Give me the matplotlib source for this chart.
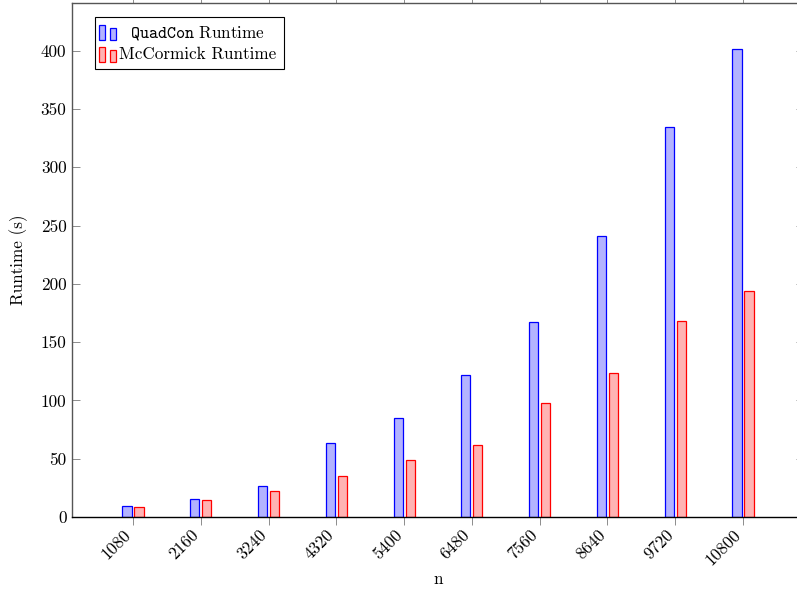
import matplotlib
matplotlib.use("Agg")
import matplotlib.pyplot as plt
import matplotlib.transforms as mtransforms
from matplotlib.patches import Rectangle
from matplotlib.legend_handler import HandlerBase
import numpy as np

plt.rcParams["font.family"] = "serif"
plt.rcParams["font.serif"] = ["cmr10", "DejaVu Serif"]
plt.rcParams["mathtext.fontset"] = "cm"
plt.rcParams["axes.unicode_minus"] = False
plt.rcParams["axes.formatter.use_mathtext"] = True

# Problem sizes and measured runtimes (seconds)
n_values = [1080, 2160, 3240, 4320, 5400, 6480, 7560, 8640, 9720, 10800]
quadcon_runtime = [9.4, 15.7, 26.6, 63.8, 84.7, 122.0, 166.9, 240.7, 334.5, 401.4]
mccormick_runtime = [8.9, 14.6, 22.0, 35.2, 48.7, 61.5, 98.1, 123.2, 168.4, 193.5]
y_ticks = [0, 50, 100, 150, 200, 250, 300, 350, 400]

BLUE_FILL, BLUE_EDGE = "#b3b3ff", "#0000ff"
RED_FILL, RED_EDGE = "#ffb3b3", "#ff0000"
TICK_GRAY = "#8c8c8c"
FS = 12.3


class TwoBarHandler(HandlerBase):
    """Legend image made of two small bars, one taller than the other."""

    def create_artists(self, legend, orig_handle, xdescent, ydescent,
                       width, height, fontsize, trans):
        fc = orig_handle.get_facecolor()
        ec = orig_handle.get_edgecolor()
        bw = width * 0.34
        x0 = -xdescent - 0.12 * width
        y0 = -ydescent - 0.2 * height
        r1 = Rectangle((x0, y0), bw, height * 1.25, facecolor=fc,
                       edgecolor=ec, linewidth=0.9, transform=trans)
        r2 = Rectangle((x0 + width * 0.64, y0), bw, height * 1.0,
                       facecolor=fc, edgecolor=ec, linewidth=0.9,
                       transform=trans)
        return [r1, r2]


fig = plt.figure(figsize=(7.97, 5.90), dpi=100)
ax = fig.add_axes([72 / 797, 73 / 590, 732 / 797, 514 / 590])

x = np.array(n_values, dtype=float)
bar_w = 145
shift = 96
b1 = ax.bar(x - shift, quadcon_runtime, width=bar_w, color=BLUE_FILL,
            edgecolor=BLUE_EDGE, linewidth=0.9)
b2 = ax.bar(x + shift, mccormick_runtime, width=bar_w, color=RED_FILL,
            edgecolor=RED_EDGE, linewidth=0.9)

ax.set_xlim(108, 11772)
ax.set_ylim(0, 441)

ax.set_xticks(n_values)
ax.set_xticklabels([str(v) for v in n_values], rotation=45, ha="right",
                   va="center", rotation_mode="anchor", fontsize=FS)
ax.set_yticks(y_ticks)
ax.set_yticklabels([str(v) for v in y_ticks], fontsize=FS)

ax.tick_params(axis="x", direction="out", length=5.5, width=0.7,
               color=TICK_GRAY, top=True, bottom=True, pad=5.5)
ax.tick_params(axis="y", direction="in", length=5.5, width=0.7,
               color=TICK_GRAY, left=True, right=True, pad=4)

# nudge rotated tick labels so their ends sit just left of the ticks
shift_tr = mtransforms.ScaledTranslation(-0.045, 0, fig.dpi_scale_trans)
for lbl in ax.get_xticklabels():
    lbl.set_transform(lbl.get_transform() + shift_tr)

for side in ("left", "top", "right"):
    ax.spines[side].set_color("#555555")
    ax.spines[side].set_linewidth(1.0)
ax.spines["bottom"].set_color("black")
ax.spines["bottom"].set_linewidth(1.0)

ax.set_xlabel("n", fontsize=FS, va="baseline")
ax.xaxis.set_label_coords(0.5, -0.131)
ax.set_ylabel("Runtime (s)", fontsize=FS, labelpad=9)

h1, h2 = b1.patches[0], b2.patches[0]
leg = ax.legend([h1, h2],
                [r"  $\mathtt{QuadCon}$ Runtime", "McCormick Runtime"],
                loc="upper left", bbox_to_anchor=(0.031, 0.973),
                borderaxespad=0, fontsize=FS, frameon=True, fancybox=False,
                framealpha=1, edgecolor="black", handlelength=1.0,
                handletextpad=0.05, borderpad=0.4, labelspacing=0.3,
                handler_map={Rectangle: TwoBarHandler()})
leg.get_frame().set_linewidth(0.8)

fig.savefig("out.png", dpi=100)
